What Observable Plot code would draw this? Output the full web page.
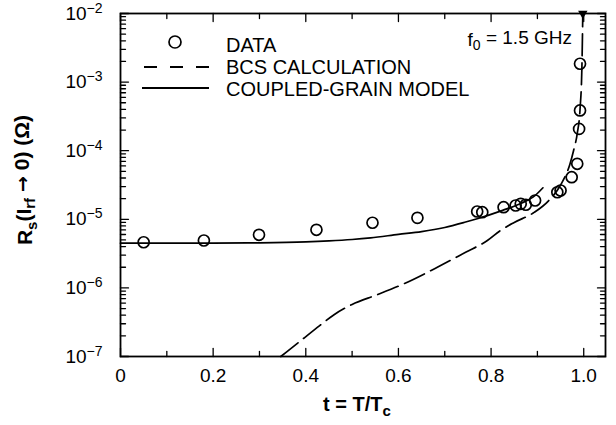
<!DOCTYPE html>
<html><head><meta charset="utf-8">
<script src="https://cdn.jsdelivr.net/npm/d3@7"></script>
<script src="https://cdn.jsdelivr.net/npm/@observablehq/plot@0.6"></script>
<style>
html,body{margin:0;padding:0;background:#fff;}
#chart{width:616px;height:425px;}
</style></head><body><div id="chart"></div>
<script>
// ---- data ----
const dataT = [0.050, 0.180, 0.299, 0.423, 0.544, 0.641, 0.770, 0.781, 0.827, 0.853, 0.864, 0.875, 0.895, 0.943, 0.950, 0.974, 0.986, 0.990, 0.992, 0.992];
const dataR = [4.63e-6, 4.91e-6, 5.94e-6, 7.03e-6, 8.9e-6, 1.05e-5, 1.30e-5, 1.27e-5, 1.50e-5, 1.59e-5, 1.68e-5, 1.63e-5, 1.88e-5, 2.48e-5, 2.63e-5, 4.11e-5, 6.44e-5, 2.08e-4, 3.86e-4, 1.85e-3];

const bcsT = [0.346, 0.389, 0.430, 0.461, 0.500, 0.554, 0.612, 0.684, 0.745, 0.792, 0.821, 0.850, 0.893, 0.924, 0.950, 0.970, 0.978, 0.986, 0.992, 0.996, 0.998];
const bcsR = [1e-7, 1.70e-7, 2.82e-7, 4.07e-7, 5.75e-7, 7.94e-7, 1.15e-6, 2.0e-6, 3.31e-6, 4.9e-6, 6.92e-6, 9.0e-6, 1.26e-5, 1.86e-5, 3.16e-5, 6.31e-5, 1.0e-4, 1.78e-4, 3.98e-4, 1.58e-3, 1e-2];

const cgT = [0.0, 0.1, 0.2, 0.3, 0.4, 0.45, 0.5, 0.54, 0.6, 0.65, 0.7, 0.745, 0.77, 0.825, 0.864, 0.894, 0.912];
const cgR = [4.49e-6, 4.49e-6, 4.5e-6, 4.54e-6, 4.68e-6, 4.84e-6, 5.08e-6, 5.37e-6, 6.03e-6, 6.61e-6, 7.59e-6, 9.12e-6, 1.02e-5, 1.35e-5, 1.70e-5, 2.19e-5, 2.88e-5];

const tcT = [0.998];
const tcR = [1e-2];

const xMajor = [0, 0.2, 0.4, 0.6, 0.8, 1.0];
const xMinor = [0.1, 0.3, 0.5, 0.7, 0.9];
const xLabels = ["0", "0.2", "0.4", "0.6", "0.8", "1.0"];
const yExps = [-7, -6, -5, -4, -3, -2];
const legendLabels = ["DATA", "BCS CALCULATION", "COUPLED-GRAIN MODEL"];
const freqLabel = ["f", "0", " = 1.5 GHz"];

// ---- build tables ----
const data = dataT.map((t, i) => ({t, r: dataR[i]}));
const bcs = bcsT.map((t, i) => ({t, r: bcsR[i]}));
const cg = cgT.map((t, i) => ({t, r: cgR[i]}));
const tc = tcT.map((t, i) => ({t, r: tcR[i]}));
const yMajor = yExps.map(e => Math.pow(10, e));
const yMinor = [];
for (const e of yExps.slice(0, -1)) for (let k = 2; k <= 9; k++) yMinor.push(k * Math.pow(10, e));

const FONT = "'Liberation Sans', Arial, Helvetica, sans-serif";
const W = 616, H = 425, ML = 120, MR = 11, MT = 13, MB = 69;
const X0 = 0, X1 = 1.047, Y0 = 1e-7, Y1 = 1e-2;
const PX_PER_X = (W - ML - MR) / (X1 - X0);
const PX_PER_DEC = (H - MT - MB) / Math.log10(Y1 / Y0);
const MAJ = 8, MIN = 5;

// inward tick segments (lengths in pixels converted through the scales' spans)
const ticks = [];
let id = 0;
function xTick(t, len) {
  const f = Math.pow(10, len / PX_PER_DEC);
  ticks.push({id: id, x: t, y: Y0}, {id: id++, x: t, y: Y0 * f});
  ticks.push({id: id, x: t, y: Y1}, {id: id++, x: t, y: Y1 / f});
}
function yTick(v, len) {
  const d = len / PX_PER_X;
  ticks.push({id: id, x: X0, y: v}, {id: id++, x: X0 + d, y: v});
  ticks.push({id: id, x: X1, y: v}, {id: id++, x: X1 - d, y: v});
}
xMajor.forEach(t => xTick(t, MAJ));
xMinor.forEach(t => xTick(t, MIN));
yMajor.forEach(v => yTick(v, MAJ));
yMinor.forEach(v => yTick(v, MIN));

const plot = Plot.plot({
  width: W, height: H,
  marginLeft: ML, marginRight: MR, marginTop: MT, marginBottom: MB,
  style: {fontFamily: FONT, fontSize: "19px"},
  x: {domain: [X0, X1]},
  y: {type: "log", domain: [Y0, Y1]},
  marks: [
    Plot.frame({strokeWidth: 1.8}),
    Plot.line(ticks, {x: "x", y: "y", z: "id", stroke: "black", strokeWidth: 1.3}),
    // tick labels
    Plot.axisX({anchor: "bottom", ticks: xMajor, tickSize: 0, tickPadding: 12, fontSize: 19, label: null,
      tickFormat: d => xLabels[xMajor.indexOf(d)]}),
    Plot.axisY({anchor: "left", ticks: yMajor, tickSize: 0, tickPadding: 18, fontSize: 19, label: null,
      tickFormat: d => "10^" + Math.round(Math.log10(d))}),
    // curves
    Plot.line(cg, {x: "t", y: "r", stroke: "black", strokeWidth: 1.7, curve: "monotone-x"}),
    Plot.line(bcs, {x: "t", y: "r", stroke: "black", strokeWidth: 1.7, strokeDasharray: "22,7", curve: "monotone-x"}),
    Plot.dot(tc, {x: "t", y: "r", symbol: "triangle", rotate: 180, r: 3.5, fill: "black", stroke: "none"}),
    // data
    Plot.dot(data, {x: "t", y: "r", r: 5.5, stroke: "black", strokeWidth: 1.7, fill: "none"})
  ]
});

document.getElementById("chart").append(plot);

const svg = d3.select(plot);
const NS = "http://www.w3.org/2000/svg";

// superscript exponents in y tick labels
svg.selectAll("text").each(function() {
  const txt = this.textContent;
  if (txt.includes("^") && this.children.length === 0) {
    const [base, exp] = txt.split("^");
    this.textContent = "";
    const a = document.createElementNS(NS, "tspan"); a.textContent = base;
    const b = document.createElementNS(NS, "tspan");
    b.textContent = exp.replace("-", "\u2212");
    b.setAttribute("dy", "-0.5em"); b.setAttribute("font-size", "14");
    this.append(a, b);
  }
});

// axis titles
const xt = svg.append("text").attr("x", 357).attr("y", 404).attr("dy", "0.35em")
  .attr("text-anchor", "middle").attr("font-family", FONT).attr("font-size", 20).attr("font-weight", "bold").attr("fill", "black");
xt.append("tspan").text("t = T/T");
xt.append("tspan").attr("dy", "0.3em").attr("font-size", 15).text("c");

const yt = svg.append("text").attr("transform", "translate(25,180) rotate(-90)").attr("dy", "0.35em")
  .attr("text-anchor", "middle").attr("font-family", FONT).attr("font-size", 21).attr("font-weight", "bold").attr("fill", "black");
yt.append("tspan").text("R");
yt.append("tspan").attr("dy", "0.3em").attr("font-size", 15).text("s");
yt.append("tspan").attr("dy", "-0.3em").text("(I");
yt.append("tspan").attr("dy", "0.3em").attr("font-size", 15).text("rf");
yt.append("tspan").attr("dy", "-0.3em").text(" ");
yt.append("tspan").attr("font-family", "'DejaVu Sans', sans-serif").attr("font-size", 19).text("\u2192");
yt.append("tspan").text(" 0) (\u03A9)");

// legend
const lg = svg.append("g").attr("font-family", FONT).attr("font-size", 20).attr("fill", "black").attr("text-anchor", "start");
lg.append("circle").attr("cx", 175).attr("cy", 42).attr("r", 6).attr("fill", "none").attr("stroke", "black").attr("stroke-width", 1.7);
lg.append("line").attr("x1", 144).attr("x2", 209).attr("y1", 67).attr("y2", 67).attr("stroke", "black").attr("stroke-width", 1.8).attr("stroke-dasharray", "13,13");
lg.append("line").attr("x1", 142).attr("x2", 209).attr("y1", 88).attr("y2", 88).attr("stroke", "black").attr("stroke-width", 1.8);
[45, 67, 89].forEach((y, i) => {
  lg.append("text").attr("x", 226).attr("y", y).attr("dy", "0.35em").attr("text-anchor", "start").text(legendLabels[i]);
});

// frequency annotation
const ft = svg.append("text").attr("x", 572).attr("y", 39).attr("dy", "0.35em").attr("text-anchor", "end")
  .attr("font-family", FONT).attr("font-size", 19).attr("fill", "black");
ft.append("tspan").text(freqLabel[0]);
ft.append("tspan").attr("dy", "0.3em").attr("font-size", 14).text(freqLabel[1]);
ft.append("tspan").attr("dy", "-0.3em").text(freqLabel[2]);
</script>
</body></html>
